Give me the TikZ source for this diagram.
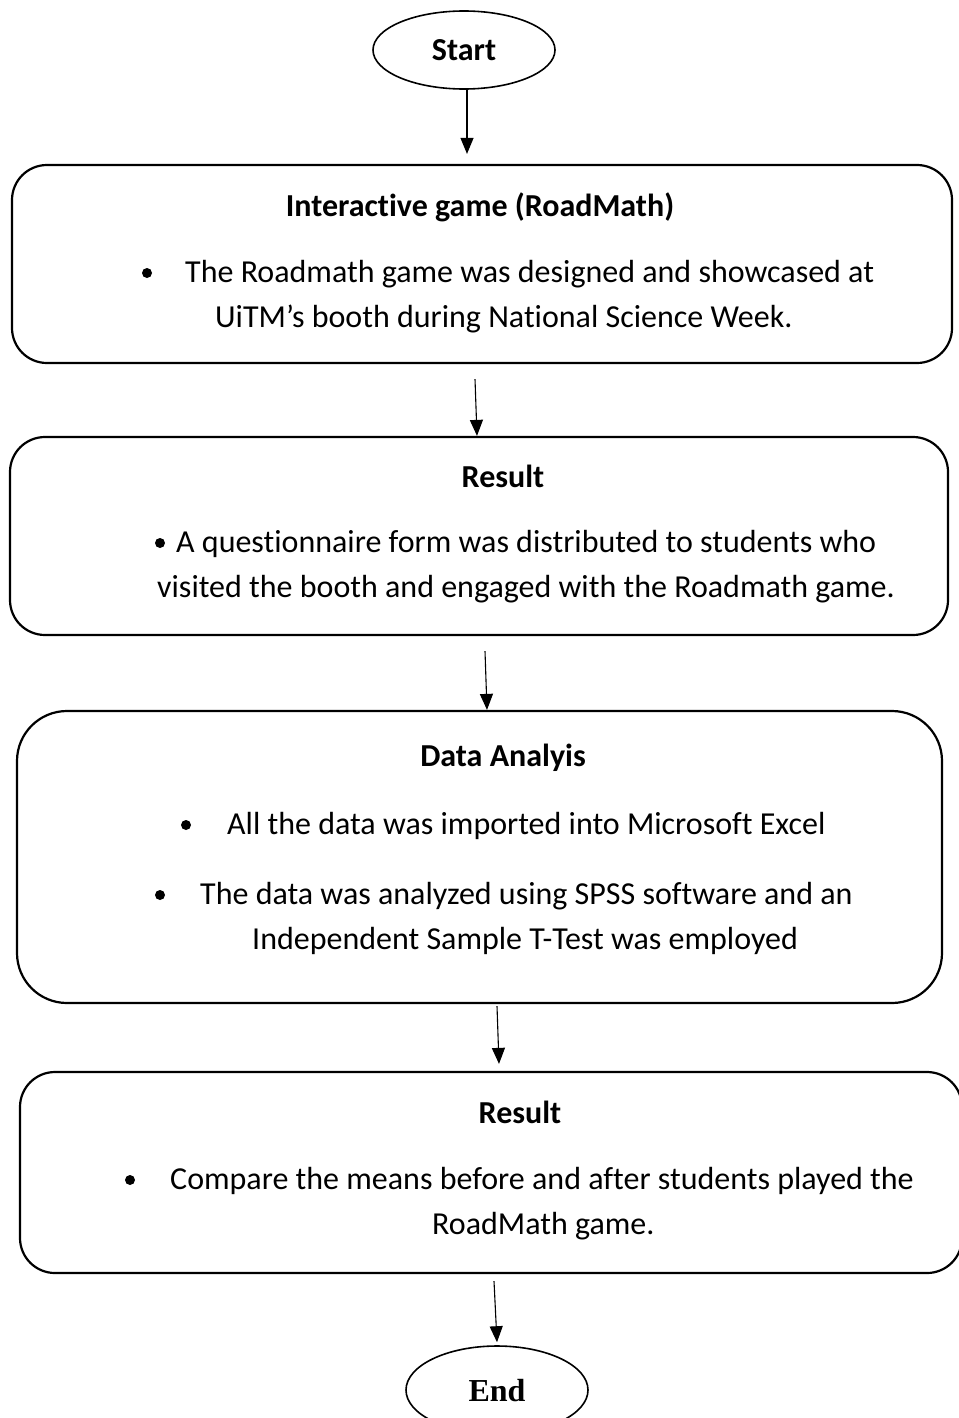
\documentclass[tikz,border=0pt]{standalone}
\usepackage{fontspec}
\setmainfont{Carlito}[Ligatures=NoCommon]
\newfontfamily\serifend{Liberation Serif}
\usetikzlibrary{arrows.meta, shapes.geometric, positioning}

\tikzset{
  stepbox/.style={draw, line width=2.2pt, rectangle, rounded corners=35pt, inner sep=0pt},
  oval/.style={draw, line width=1.6pt, ellipse, inner sep=0pt},
  flow/.style={line width=1.1pt, -{Triangle[length=16pt, width=13pt]}},
  line/.style={anchor=base west, inner sep=0pt, font=\fontsize{32}{38}\selectfont},
  title/.style={anchor=base, inner sep=0pt, font=\fontsize{32}{38}\selectfont\bfseries}
}

\begin{document}
\begin{tikzpicture}[x=1pt, y=-1pt]

            \useasboundingbox (0,0) rectangle (958,1418);

            % Start / End
            \node[oval, minimum width=182pt, minimum height=78pt] (start) at (464,50) {};
            \node[title] (starttxt) at (464,61) {Start};
            \node[oval, minimum width=182pt, minimum height=88pt] (end) at (497,1390) {};
            \node[anchor=base, inner sep=0pt, font=\fontsize{32}{38}\selectfont\serifend\bfseries] (endtxt) at (497,1401) {End};

            % Boxes
            \node[stepbox, minimum width=940pt, minimum height=198pt] (game) at (482,264) {};
            \node[stepbox, minimum width=938pt, minimum height=198pt] (result) at (479,536) {};
            \node[stepbox, rounded corners=50pt, minimum width=925pt, minimum height=292pt] (analysis) at (479.5,857) {};
            \node[stepbox, minimum width=942pt, minimum height=201pt] (compare) at (491,1172.5) {};

            % Box 1
            \node[title] (gametitle) at (480,216) {Interactive game (RoadMath)};
            \fill (147,273) circle (5); % bullet
            \node[line] (gamea) at (185,282) {The Roadmath game was designed and showcased at};
            \node[line] (gameb) at (215,327) {UiTM’s booth during National Science Week.};

            % Box 2
            \node[title] (resulttitle) at (503,487) {Result};
            \fill (160,543) circle (5);
            \node[line] (resulta) at (176,552) {A questionnaire form was distributed to students who};
            \node[line] (resultb) at (157,597) {visited the booth and engaged with the Roadmath game.};

            % Box 3
            \node[title] (analysistitle) at (503,766) {Data Analyis};
            \fill (186,825) circle (5);
            \node[line] (analysisa) at (227,834) {All the data was imported into Microsoft Excel};
            \fill (160,895) circle (5);
            \node[line] (analysisb) at (200,904) {The data was analyzed using SPSS software and an};
            \node[line] (analysisc) at (252,949) {Independent Sample T-Test was employed};

            % Box 4
            \node[title] (comparetitle) at (520,1123) {Result};
            \fill (130,1180) circle (5);
            \node[line] (comparea) at (170,1189) {Compare the means before and after students played the};
            \node[line] (compareb) at (432,1234) {RoadMath game.};

            % Arrows
            \draw[flow] ([xshift=3pt]start.south) -- ([xshift=-15pt, yshift=10pt]game.north);
            \draw[flow] ([xshift=-7pt, yshift=-15pt]game.south) -- ([xshift=-2pt]result.north);
            \draw[flow] ([xshift=6pt, yshift=-15pt]result.south) -- ([xshift=7.5pt]analysis.north);
            \draw[flow] ([xshift=17.5pt, yshift=-2pt]analysis.south) -- ([xshift=8pt, yshift=7pt]compare.north);
            \draw[flow] ([xshift=3pt, yshift=-7pt]compare.south) -- ([yshift=3pt]end.north);

\end{tikzpicture}
\end{document}
